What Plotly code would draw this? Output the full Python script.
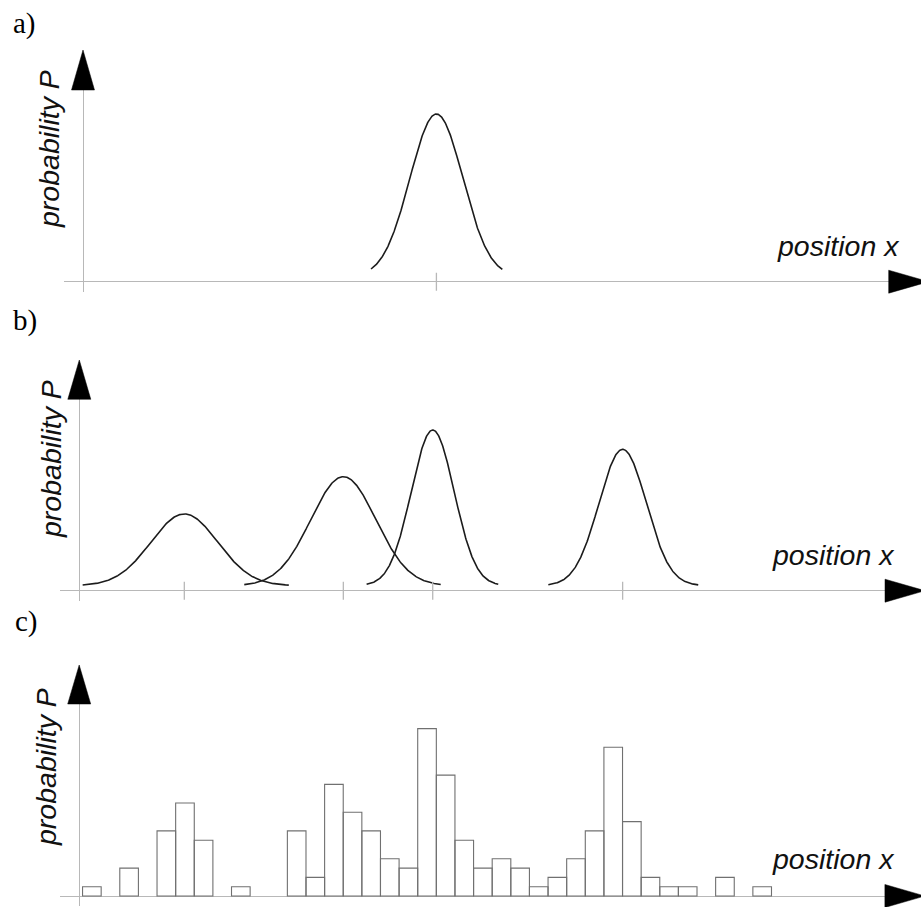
import numpy as np
import plotly.graph_objects as go

# ---------------- data (x in bin units from the P axis, y in relative probability units) ----------------
# panel a: single sharp distribution
a_center = 18.98
a_peak = 17.49
a_sigma = 1.42
a_left, a_right = 15.47, 22.52

# panel b: four distributions
b_centers = [5.64, 14.18, 18.98, 29.18]
b_peaks = [7.71, 11.72, 16.74, 14.66]
b_sigmas = [1.80, 1.75, 1.15, 1.27]
b_left = [0.18, 8.86, 15.43, 25.19]
b_right = [11.25, 19.41, 22.50, 33.24]

curve_floor = 0.54  # curves sit slightly above the axis

# panel c: histogram of counts, bin width 1, first edge at 0.18
hist_first_edge = 0.18
hist_counts = [1, 0, 3, 0, 7, 10, 6, 0, 1, 0, 0, 7, 2, 12, 9, 7, 4, 3, 18, 13,
               6, 3, 4, 3, 1, 2, 4, 7, 16, 8, 2, 1, 1, 0, 2, 0, 1]

panel_labels = ["a)", "b)", "c)"]
y_title = "probability P"
x_title = "position x"

# ---------------- layout geometry (pixels) ----------------
W, H = 921, 907
XU, YU = 18.62, 9.3  # pixels per data unit
geom = [
    dict(ox=83.0, ay=281.7, ls=64.0, base=90.0, tip=50.0, lab=(24.7, 23), yt=(49, 149), xt=(838, 246)),
    dict(ox=79.3, ay=590.7, ls=60.0, base=399.3, tip=360.0, lab=(25.0, 320), yt=(51, 459), xt=(833, 555)),
    dict(ox=79.2, ay=896.0, ls=60.0, base=704.0, tip=665.0, lab=(26.5, 621), yt=(46, 767), xt=(833, 859)),
]
AXIS_GRAY = "#b8b8b8"
CURVE = "#1c1c1c"
TXT_SIZE = 28.5


def gauss_curve(c, peak, s, lo, hi):
    x = np.linspace(lo, hi, 300)
    y = curve_floor + peak * np.exp(-0.5 * ((x - c) / s) ** 2)
    return x, y


fig = go.Figure()

# panel a curve
xa, ya = gauss_curve(a_center, a_peak, a_sigma, a_left, a_right)
fig.add_trace(go.Scatter(x=xa, y=ya, mode="lines", line=dict(color=CURVE, width=1.6),
                         xaxis="x", yaxis="y", hoverinfo="skip"))

# panel b curves
for c, p, s, lo, hi in zip(b_centers, b_peaks, b_sigmas, b_left, b_right):
    xb, yb = gauss_curve(c, p, s, lo, hi)
    fig.add_trace(go.Scatter(x=xb, y=yb, mode="lines", line=dict(color=CURVE, width=1.6),
                             xaxis="x2", yaxis="y2", hoverinfo="skip"))

# panel c histogram
hx = [hist_first_edge + i + 0.5 for i, v in enumerate(hist_counts) if v > 0]
hy = [v for v in hist_counts if v > 0]
fig.add_trace(go.Bar(x=hx, y=hy, width=1.0,
                     marker=dict(color="rgba(255,255,255,0)", line=dict(color="#707070", width=1.1)),
                     xaxis="x3", yaxis="y3", hoverinfo="skip"))

# tick marks at distribution centres
tick_half = 9.0 / YU
for axes, ticks in ((("x", "y"), [a_center]), (("x2", "y2"), b_centers)):
    tx, ty = [], []
    for t in ticks:
        tx += [t, t, None]
        ty += [-tick_half, tick_half, None]
    fig.add_trace(go.Scatter(x=tx, y=ty, mode="lines", line=dict(color=AXIS_GRAY, width=1.3),
                             xaxis=axes[0], yaxis=axes[1], hoverinfo="skip"))

layout = dict(width=W, height=H, margin=dict(l=0, r=0, t=0, b=0),
              paper_bgcolor="white", plot_bgcolor="rgba(0,0,0,0)", showlegend=False)

shapes, annotations = [], []


def P(xp, yp):
    return xp / W, 1 - yp / H


for k, g in enumerate(geom):
    sfx = "" if k == 0 else str(k + 1)
    xd = [g["ls"] / W, 1.0]
    xr = [(g["ls"] - g["ox"]) / XU, (W - g["ox"]) / XU]
    yd = [1 - (g["ay"] + 10) / H, 1 - g["base"] / H]
    yr = [-10 / YU, (g["ay"] - g["base"]) / YU]
    layout["xaxis" + sfx] = dict(domain=xd, range=xr, anchor="y" + sfx, showgrid=False, showticklabels=False,
                                 ticks="", showline=False, zeroline=True, zerolinecolor=AXIS_GRAY,
                                 zerolinewidth=1.4, fixedrange=True)
    layout["yaxis" + sfx] = dict(domain=yd, range=yr, anchor="x" + sfx, showgrid=False, showticklabels=False,
                                 ticks="", showline=False, zeroline=True, zerolinecolor=AXIS_GRAY,
                                 zerolinewidth=1.4, fixedrange=True)
    # vertical arrow head
    x0, y0 = P(g["ox"] - 11.5, g["base"])
    x1, y1 = P(g["ox"] + 11.5, g["base"])
    x2, y2 = P(g["ox"], g["tip"])
    shapes.append(dict(type="path", xref="paper", yref="paper",
                       path=f"M {x0} {y0} L {x1} {y1} L {x2} {y2} Z",
                       fillcolor="black", line=dict(color="black", width=0.5)))
    # horizontal arrow head
    bx = 885 + (g["ox"] - 79.3)
    x0, y0 = P(bx, g["ay"] - 11.5)
    x1, y1 = P(bx, g["ay"] + 11.5)
    x2, y2 = P(bx + 40, g["ay"])
    shapes.append(dict(type="path", xref="paper", yref="paper",
                       path=f"M {x0} {y0} L {x1} {y1} L {x2} {y2} Z",
                       fillcolor="black", line=dict(color="black", width=0.5)))
    # texts
    lx, ly = P(*g["lab"])
    annotations.append(dict(text=panel_labels[k], x=lx, y=ly, xref="paper", yref="paper",
                            xanchor="center", yanchor="middle", showarrow=False,
                            font=dict(family="Liberation Serif, Times New Roman, serif", size=29, color="black")))
    tx, ty = P(*g["yt"])
    annotations.append(dict(text=y_title, x=tx, y=ty, xref="paper", yref="paper", textangle=-90,
                            xanchor="center", yanchor="middle", showarrow=False,
                            font=dict(family="Liberation Sans, Arial, sans-serif", size=TXT_SIZE, color="#111",
                                      style="italic")))
    tx, ty = P(*g["xt"])
    annotations.append(dict(text=x_title, x=tx, y=ty, xref="paper", yref="paper",
                            xanchor="center", yanchor="middle", showarrow=False,
                            font=dict(family="Liberation Sans, Arial, sans-serif", size=TXT_SIZE, color="#111",
                                      style="italic")))

layout["shapes"] = shapes
layout["annotations"] = annotations
fig.update_layout(**layout)
fig.write_html("out.html", config={"displayModeBar": False},
               post_script="document.body.style.margin='0';document.body.style.overflow='hidden';")
